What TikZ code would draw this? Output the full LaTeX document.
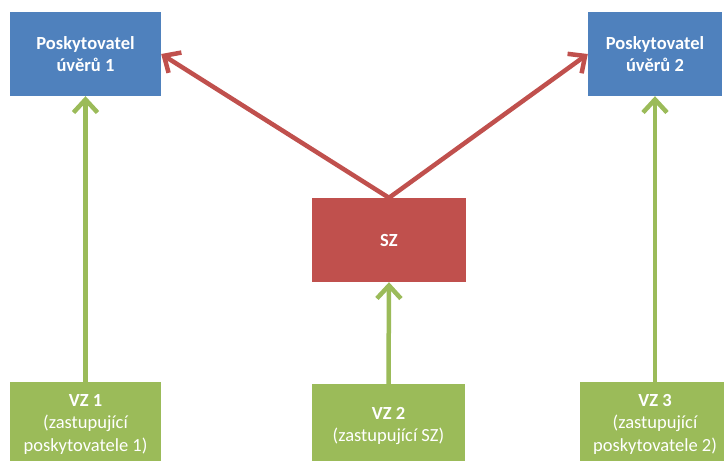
\documentclass[tikz,border=0pt]{standalone}
\usepackage{fontspec}
\setmainfont{Carlito}
\usepackage{xcolor}
\usetikzlibrary{arrows.meta}
\definecolor{boxblue}{HTML}{4F81BD}
\definecolor{boxred}{HTML}{C0504D}
\definecolor{boxgreen}{HTML}{9BBB59}
\definecolor{linered}{HTML}{C0504D}
\definecolor{linegreen}{HTML}{9BBB59}

\begin{document}
\begin{tikzpicture}[x=1pt, y=-1pt,
    box/.style={inner sep=0pt, align=center, text=white, font=\fontsize{18.5}{22.5}\selectfont,
                minimum height=84pt},
    lender/.style={box, fill=boxblue},
    rep/.style={box, fill=boxgreen, minimum width=152pt},
    redarrow/.style={draw=linered, line width=4.5pt, -{Straight Barb[length=13pt, width=24pt, line width=4.5pt]}},
    greenarrow/.style={draw=linegreen, line width=4.5pt, -{Straight Barb[length=13pt, width=24pt, line width=4.5pt]}}]
    \useasboundingbox (0,0) rectangle (724,461);
    \clip (0,0) rectangle (724,461);
    \node[lender, minimum width=151pt] (p1) at (85.5,54) {\textbf{Poskytovatel}\\\textbf{úvěrů 1}};
    \node[lender, minimum width=134pt] (p2) at (655,54) {\textbf{Poskytovatel}\\\textbf{úvěrů 2}};
    \node[box, fill=boxred, minimum width=154pt] (sz) at (389,240) {\textbf{SZ}};
    \node[rep, minimum width=151pt] (vz1) at (85.5,424) {\textbf{VZ 1}\\(zastupující\\poskytovatele 1)};
    \node[rep, minimum width=153pt] (vz2) at (388.5,426) {\textbf{VZ 2}\\(zastupující SZ)};
    \node[rep, minimum width=150pt] (vz3) at (655,424) {\textbf{VZ 3}\\(zastupující\\poskytovatele 2)};
    \draw[redarrow] (sz.north) -- (p1.east);
    \draw[redarrow] (sz.north) -- (p2.west);
    \draw[greenarrow] (vz1.north) -- (p1.south);
    \draw[greenarrow] (vz2.north) -- (sz.south);
    \draw[greenarrow] (vz3.north) -- (p2.south);
\end{tikzpicture}
\end{document}
